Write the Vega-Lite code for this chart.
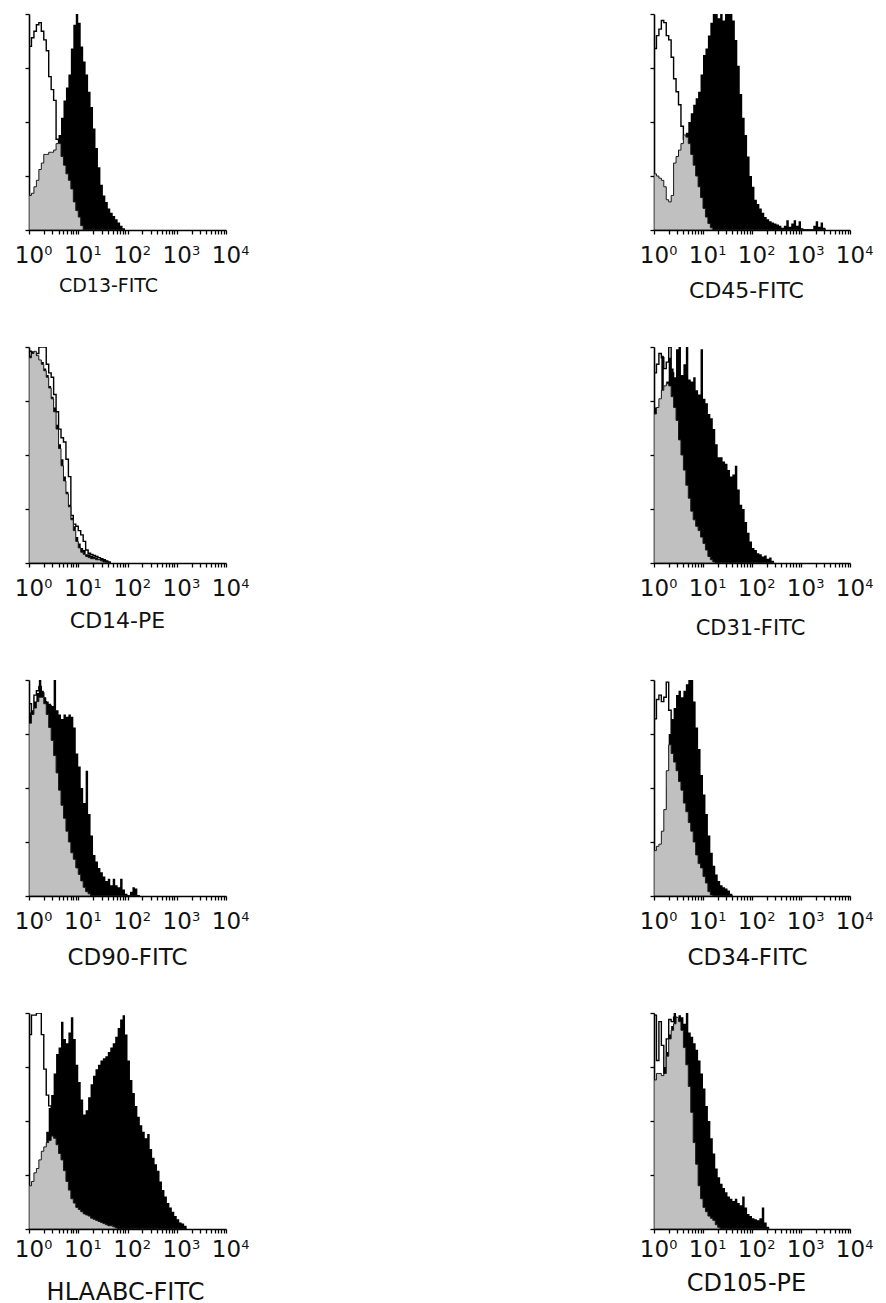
{
"$schema": "https://vega.github.io/schema/vega-lite/v6.json",
"padding": {"left": 14, "top": 13, "right": 0, "bottom": 0},
"background": "#ffffff",
"config": {
 "view": {"stroke": null},
 "axis": {"grid": false, "domainColor": "#000000", "domainWidth": 1.6, "tickColor": "#000000", "tickWidth": 1.3, "tickSize": 4, "labelFont": "DejaVu Sans", "labelFontSize": 23, "labelColor": "#111111", "labelPadding": 10, "labelOverlap": false, "labelBound": false, "labelFlush": false, "titleFont": "DejaVu Sans", "titleFontWeight": "normal", "titleColor": "#111111", "titleFontSize": 19, "titleBaseline": "top", "titleAlign": "center"}
},
"datasets": {
 "cd13": [{"d":0,"o":85,"g":16,"b":3},{"d":0.05,"o":89,"g":17,"b":4},{"d":0.1,"o":92,"g":20,"b":5},{"d":0.15,"o":95,"g":23,"b":6},{"d":0.2,"o":96,"g":28,"b":8},{"d":0.25,"o":92,"g":31,"b":10},{"d":0.3,"o":88,"g":35,"b":12},{"d":0.35,"o":83,"g":35,"b":14},{"d":0.4,"o":71,"g":36,"b":18},{"d":0.45,"o":65,"g":36,"b":22},{"d":0.5,"o":60,"g":37,"b":28},{"d":0.55,"o":42,"g":40,"b":35},{"d":0.6,"o":40,"g":40,"b":44},{"d":0.65,"o":32,"g":34,"b":52},{"d":0.7,"o":26,"g":30,"b":60},{"d":0.75,"o":20,"g":26,"b":66},{"d":0.8,"o":15,"g":23,"b":72},{"d":0.85,"o":11,"g":19,"b":84},{"d":0.9,"o":8,"g":13,"b":95},{"d":0.95,"o":6,"g":9,"b":100},{"d":1,"o":4,"g":6,"b":96},{"d":1.05,"o":3,"g":2,"b":85},{"d":1.1,"o":2,"g":0,"b":78},{"d":1.15,"o":2,"g":0,"b":72},{"d":1.2,"o":1,"g":0,"b":64},{"d":1.25,"o":1,"g":0,"b":57},{"d":1.3,"o":0.5,"g":0,"b":47},{"d":1.35,"o":0.5,"g":0,"b":38},{"d":1.4,"o":0,"g":0,"b":29},{"d":1.45,"o":0,"g":0,"b":21},{"d":1.5,"o":0,"g":0,"b":16},{"d":1.55,"o":0,"g":0,"b":13},{"d":1.6,"o":0,"g":0,"b":10},{"d":1.65,"o":0,"g":0,"b":8},{"d":1.7,"o":0,"g":0,"b":6.5},{"d":1.75,"o":0,"g":0,"b":5},{"d":1.8,"o":0,"g":0,"b":3.5},{"d":1.85,"o":0,"g":0,"b":2},{"d":1.9,"o":0,"g":0,"b":0.8},{"d":1.95,"o":0,"g":0,"b":0}],
 "cd45": [{"d":0,"o":84,"g":26,"b":10},{"d":0.05,"o":90,"g":25,"b":10},{"d":0.1,"o":93,"g":24,"b":10},{"d":0.15,"o":97,"g":23,"b":11},{"d":0.2,"o":96,"g":20,"b":11},{"d":0.25,"o":90,"g":14,"b":12},{"d":0.3,"o":88,"g":13,"b":12},{"d":0.35,"o":80,"g":16,"b":15},{"d":0.4,"o":70,"g":31,"b":20},{"d":0.45,"o":64,"g":34,"b":25},{"d":0.5,"o":58,"g":37,"b":30},{"d":0.55,"o":48,"g":40,"b":35},{"d":0.6,"o":42,"g":44,"b":38},{"d":0.65,"o":36,"g":43,"b":45},{"d":0.7,"o":30,"g":40,"b":50},{"d":0.75,"o":24,"g":35,"b":54},{"d":0.8,"o":18,"g":30,"b":58},{"d":0.85,"o":13,"g":25,"b":61},{"d":0.9,"o":9,"g":20,"b":64},{"d":0.95,"o":6,"g":15,"b":72},{"d":1,"o":4,"g":10,"b":81},{"d":1.05,"o":3,"g":6,"b":84},{"d":1.1,"o":2,"g":3,"b":90},{"d":1.15,"o":1.5,"g":1,"b":96},{"d":1.2,"o":1,"g":0,"b":100},{"d":1.25,"o":0.5,"g":0,"b":100},{"d":1.3,"o":0,"g":0,"b":98},{"d":1.35,"o":0,"g":0,"b":100},{"d":1.4,"o":0,"g":0,"b":97},{"d":1.45,"o":0,"g":0,"b":100},{"d":1.5,"o":0,"g":0,"b":100},{"d":1.55,"o":0,"g":0,"b":100},{"d":1.6,"o":0,"g":0,"b":97},{"d":1.65,"o":0,"g":0,"b":88},{"d":1.7,"o":0,"g":0,"b":76},{"d":1.75,"o":0,"g":0,"b":63},{"d":1.8,"o":0,"g":0,"b":52},{"d":1.85,"o":0,"g":0,"b":44},{"d":1.9,"o":0,"g":0,"b":34},{"d":1.95,"o":0,"g":0,"b":25},{"d":2,"o":0,"g":0,"b":20},{"d":2.05,"o":0,"g":0,"b":14},{"d":2.1,"o":0,"g":0,"b":12},{"d":2.15,"o":0,"g":0,"b":10},{"d":2.2,"o":0,"g":0,"b":8},{"d":2.25,"o":0,"g":0,"b":6},{"d":2.3,"o":0,"g":0,"b":5},{"d":2.35,"o":0,"g":0,"b":4},{"d":2.4,"o":0,"g":0,"b":3.5},{"d":2.45,"o":0,"g":0,"b":3},{"d":2.5,"o":0,"g":0,"b":2.5},{"d":2.55,"o":0,"g":0,"b":2},{"d":2.6,"o":0,"g":0,"b":1},{"d":2.65,"o":0,"g":0,"b":2},{"d":2.7,"o":0,"g":0,"b":4.5},{"d":2.75,"o":0,"g":0,"b":1.5},{"d":2.8,"o":0,"g":0,"b":3},{"d":2.85,"o":0,"g":0,"b":4.5},{"d":2.9,"o":0,"g":0,"b":2},{"d":2.95,"o":0,"g":0,"b":4},{"d":3,"o":0,"g":0,"b":0.8},{"d":3.05,"o":0,"g":0,"b":0.3},{"d":3.1,"o":0,"g":0,"b":0.3},{"d":3.15,"o":0,"g":0,"b":0},{"d":3.2,"o":0,"g":0,"b":0.5},{"d":3.25,"o":0,"g":0,"b":2},{"d":3.3,"o":0,"g":0,"b":4},{"d":3.35,"o":0,"g":0,"b":1.5},{"d":3.4,"o":0,"g":0,"b":3.5},{"d":3.45,"o":0,"g":0,"b":1},{"d":3.5,"o":0,"g":0,"b":0}],
 "cd14": [{"d":0,"o":98,"g":95,"b":96},{"d":0.05,"o":95,"g":97,"b":98},{"d":0.1,"o":93,"g":98,"b":97},{"d":0.15,"o":97,"g":96,"b":95},{"d":0.2,"o":100,"g":94,"b":93},{"d":0.25,"o":100,"g":92,"b":93},{"d":0.3,"o":100,"g":89,"b":90},{"d":0.35,"o":92,"g":86,"b":87},{"d":0.4,"o":88,"g":81,"b":82},{"d":0.45,"o":86,"g":76,"b":77},{"d":0.5,"o":78,"g":70,"b":72},{"d":0.55,"o":70,"g":62,"b":64},{"d":0.6,"o":62,"g":53,"b":55},{"d":0.65,"o":58,"g":45,"b":48},{"d":0.7,"o":56,"g":38,"b":40},{"d":0.75,"o":48,"g":32,"b":33},{"d":0.8,"o":40,"g":26,"b":27},{"d":0.85,"o":22,"g":20,"b":21},{"d":0.9,"o":18,"g":15,"b":17},{"d":0.95,"o":17,"g":10,"b":12},{"d":1,"o":15,"g":7,"b":9},{"d":1.05,"o":13,"g":5,"b":7},{"d":1.1,"o":10,"g":4,"b":6},{"d":1.15,"o":6,"g":3,"b":4},{"d":1.2,"o":4.5,"g":2.5,"b":4},{"d":1.25,"o":4,"g":2,"b":3.5},{"d":1.3,"o":3.5,"g":2,"b":3},{"d":1.35,"o":3,"g":1.5,"b":2.5},{"d":1.4,"o":2.5,"g":1.5,"b":2},{"d":1.45,"o":2,"g":1,"b":2},{"d":1.5,"o":1.5,"g":0.5,"b":1.5},{"d":1.55,"o":1,"g":0.3,"b":1},{"d":1.6,"o":0.5,"g":0,"b":0.5},{"d":1.65,"o":0,"g":0,"b":0}],
 "cd31": [{"d":0,"o":88,"g":69,"b":72},{"d":0.05,"o":92,"g":72,"b":70},{"d":0.1,"o":97,"g":76,"b":74},{"d":0.15,"o":95,"g":80,"b":96},{"d":0.2,"o":90,"g":82,"b":80},{"d":0.25,"o":93,"g":83,"b":84},{"d":0.3,"o":100,"g":82,"b":95},{"d":0.35,"o":88,"g":77,"b":90},{"d":0.4,"o":80,"g":72,"b":86},{"d":0.45,"o":72,"g":66,"b":99},{"d":0.5,"o":64,"g":57,"b":100},{"d":0.55,"o":56,"g":50,"b":87},{"d":0.6,"o":48,"g":43,"b":92},{"d":0.65,"o":40,"g":36,"b":100},{"d":0.7,"o":34,"g":30,"b":85},{"d":0.75,"o":28,"g":24,"b":84},{"d":0.8,"o":22,"g":20,"b":86},{"d":0.85,"o":17,"g":17,"b":80},{"d":0.9,"o":13,"g":15,"b":78},{"d":0.95,"o":10,"g":12,"b":99},{"d":1,"o":8,"g":9,"b":76},{"d":1.05,"o":6,"g":6,"b":74},{"d":1.1,"o":4,"g":3,"b":69},{"d":1.15,"o":3,"g":1.5,"b":67},{"d":1.2,"o":2,"g":0.5,"b":62},{"d":1.25,"o":1,"g":0,"b":55},{"d":1.3,"o":0.5,"g":0,"b":49},{"d":1.35,"o":0,"g":0,"b":49},{"d":1.4,"o":0,"g":0,"b":47},{"d":1.45,"o":0,"g":0,"b":46},{"d":1.5,"o":0,"g":0,"b":43},{"d":1.55,"o":0,"g":0,"b":40},{"d":1.6,"o":0,"g":0,"b":41},{"d":1.65,"o":0,"g":0,"b":45},{"d":1.7,"o":0,"g":0,"b":34},{"d":1.75,"o":0,"g":0,"b":27},{"d":1.8,"o":0,"g":0,"b":25},{"d":1.85,"o":0,"g":0,"b":19},{"d":1.9,"o":0,"g":0,"b":14},{"d":1.95,"o":0,"g":0,"b":10},{"d":2,"o":0,"g":0,"b":7},{"d":2.05,"o":0,"g":0,"b":6},{"d":2.1,"o":0,"g":0,"b":4.5},{"d":2.15,"o":0,"g":0,"b":4},{"d":2.2,"o":0,"g":0,"b":3},{"d":2.25,"o":0,"g":0,"b":3.5},{"d":2.3,"o":0,"g":0,"b":2},{"d":2.35,"o":0,"g":0,"b":2.5},{"d":2.4,"o":0,"g":0,"b":1},{"d":2.45,"o":0,"g":0,"b":0}],
 "cd90": [{"d":0,"o":89,"g":80,"b":85},{"d":0.05,"o":84,"g":84,"b":86},{"d":0.1,"o":93,"g":87,"b":90},{"d":0.15,"o":95,"g":90,"b":94},{"d":0.2,"o":97,"g":92,"b":100},{"d":0.25,"o":94,"g":92,"b":95},{"d":0.3,"o":90,"g":89,"b":92},{"d":0.35,"o":86,"g":84,"b":90},{"d":0.4,"o":88,"g":78,"b":89},{"d":0.45,"o":84,"g":72,"b":88},{"d":0.5,"o":80,"g":65,"b":100},{"d":0.55,"o":74,"g":57,"b":86},{"d":0.6,"o":66,"g":49,"b":84},{"d":0.65,"o":58,"g":42,"b":82},{"d":0.7,"o":50,"g":36,"b":84},{"d":0.75,"o":42,"g":30,"b":83},{"d":0.8,"o":34,"g":25,"b":84},{"d":0.85,"o":26,"g":20,"b":83},{"d":0.9,"o":20,"g":17,"b":78},{"d":0.95,"o":15,"g":13,"b":66},{"d":1,"o":11,"g":10,"b":60},{"d":1.05,"o":8,"g":7,"b":50},{"d":1.1,"o":6,"g":4,"b":43},{"d":1.15,"o":4,"g":2,"b":58},{"d":1.2,"o":3,"g":1,"b":38},{"d":1.25,"o":2,"g":0,"b":28},{"d":1.3,"o":1,"g":0,"b":19},{"d":1.35,"o":0.5,"g":0,"b":16},{"d":1.4,"o":0,"g":0,"b":13},{"d":1.45,"o":0,"g":0,"b":11},{"d":1.5,"o":0,"g":0,"b":9},{"d":1.55,"o":0,"g":0,"b":7},{"d":1.6,"o":0,"g":0,"b":8},{"d":1.65,"o":0,"g":0,"b":5},{"d":1.7,"o":0,"g":0,"b":8},{"d":1.75,"o":0,"g":0,"b":5},{"d":1.8,"o":0,"g":0,"b":4},{"d":1.85,"o":0,"g":0,"b":8},{"d":1.9,"o":0,"g":0,"b":3},{"d":1.95,"o":0,"g":0,"b":1},{"d":2,"o":0,"g":0,"b":0.5},{"d":2.05,"o":0,"g":0,"b":2},{"d":2.1,"o":0,"g":0,"b":4},{"d":2.15,"o":0,"g":0,"b":3.5},{"d":2.2,"o":0,"g":0,"b":0.5},{"d":2.25,"o":0,"g":0,"b":0}],
 "cd34": [{"d":0,"o":82,"g":21,"b":10},{"d":0.05,"o":91,"g":23,"b":12},{"d":0.1,"o":93,"g":24,"b":15},{"d":0.15,"o":90,"g":30,"b":20},{"d":0.2,"o":92,"g":40,"b":30},{"d":0.25,"o":99,"g":58,"b":50},{"d":0.3,"o":86,"g":70,"b":75},{"d":0.35,"o":70,"g":66,"b":82},{"d":0.4,"o":60,"g":62,"b":87},{"d":0.45,"o":52,"g":58,"b":93},{"d":0.5,"o":45,"g":53,"b":95},{"d":0.55,"o":38,"g":49,"b":92},{"d":0.6,"o":32,"g":43,"b":95},{"d":0.65,"o":26,"g":39,"b":98},{"d":0.7,"o":20,"g":34,"b":100},{"d":0.75,"o":16,"g":30,"b":100},{"d":0.8,"o":12,"g":25,"b":90},{"d":0.85,"o":9,"g":19,"b":78},{"d":0.9,"o":7,"g":15,"b":68},{"d":0.95,"o":5,"g":13,"b":56},{"d":1,"o":3,"g":9,"b":47},{"d":1.05,"o":2,"g":6,"b":38},{"d":1.1,"o":1,"g":2,"b":28},{"d":1.15,"o":0.5,"g":0.5,"b":20},{"d":1.2,"o":0,"g":0,"b":14},{"d":1.25,"o":0,"g":0,"b":10},{"d":1.3,"o":0,"g":0,"b":7},{"d":1.35,"o":0,"g":0,"b":5},{"d":1.4,"o":0,"g":0,"b":4},{"d":1.45,"o":0,"g":0,"b":3.5},{"d":1.5,"o":0,"g":0,"b":2.5},{"d":1.55,"o":0,"g":0,"b":1},{"d":1.6,"o":0,"g":0,"b":0}],
 "hla": [{"d":0,"o":90,"g":20,"b":10},{"d":0.05,"o":99,"g":22,"b":12},{"d":0.1,"o":99,"g":26,"b":14},{"d":0.15,"o":100,"g":28,"b":18},{"d":0.2,"o":100,"g":32,"b":24},{"d":0.25,"o":90,"g":36,"b":30},{"d":0.3,"o":74,"g":38,"b":36},{"d":0.35,"o":62,"g":40,"b":45},{"d":0.4,"o":57,"g":41,"b":56},{"d":0.45,"o":50,"g":43,"b":62},{"d":0.5,"o":44,"g":42,"b":72},{"d":0.55,"o":38,"g":39,"b":81},{"d":0.6,"o":32,"g":35,"b":84},{"d":0.65,"o":26,"g":32,"b":96},{"d":0.7,"o":22,"g":27,"b":88},{"d":0.75,"o":18,"g":22,"b":86},{"d":0.8,"o":15,"g":18,"b":91},{"d":0.85,"o":12,"g":14,"b":98},{"d":0.9,"o":10,"g":12,"b":88},{"d":0.95,"o":8,"g":10,"b":76},{"d":1,"o":6,"g":9,"b":68},{"d":1.05,"o":5,"g":8,"b":60},{"d":1.1,"o":4,"g":7,"b":53},{"d":1.15,"o":3,"g":6.5,"b":55},{"d":1.2,"o":2,"g":6,"b":61},{"d":1.25,"o":1.5,"g":5,"b":67},{"d":1.3,"o":1,"g":4.5,"b":71},{"d":1.35,"o":0.5,"g":4,"b":74},{"d":1.4,"o":0,"g":3.5,"b":76},{"d":1.45,"o":0,"g":3,"b":78},{"d":1.5,"o":0,"g":2.5,"b":79},{"d":1.55,"o":0,"g":2,"b":80},{"d":1.6,"o":0,"g":1.5,"b":82},{"d":1.65,"o":0,"g":1.5,"b":84},{"d":1.7,"o":0,"g":1,"b":86},{"d":1.75,"o":0,"g":0.5,"b":89},{"d":1.8,"o":0,"g":0,"b":93},{"d":1.85,"o":0,"g":0,"b":97},{"d":1.9,"o":0,"g":0,"b":99},{"d":1.95,"o":0,"g":0,"b":90},{"d":2,"o":0,"g":0,"b":78},{"d":2.05,"o":0,"g":0,"b":69},{"d":2.1,"o":0,"g":0,"b":63},{"d":2.15,"o":0,"g":0,"b":57},{"d":2.2,"o":0,"g":0,"b":52},{"d":2.25,"o":0,"g":0,"b":48},{"d":2.3,"o":0,"g":0,"b":45},{"d":2.35,"o":0,"g":0,"b":42},{"d":2.4,"o":0,"g":0,"b":44},{"d":2.45,"o":0,"g":0,"b":37},{"d":2.5,"o":0,"g":0,"b":33},{"d":2.55,"o":0,"g":0,"b":30},{"d":2.6,"o":0,"g":0,"b":27},{"d":2.65,"o":0,"g":0,"b":22},{"d":2.7,"o":0,"g":0,"b":18},{"d":2.75,"o":0,"g":0,"b":15},{"d":2.8,"o":0,"g":0,"b":12},{"d":2.85,"o":0,"g":0,"b":10},{"d":2.9,"o":0,"g":0,"b":8},{"d":2.95,"o":0,"g":0,"b":6},{"d":3,"o":0,"g":0,"b":4.5},{"d":3.05,"o":0,"g":0,"b":3},{"d":3.1,"o":0,"g":0,"b":2.5},{"d":3.15,"o":0,"g":0,"b":1.5},{"d":3.2,"o":0,"g":0,"b":0}],
 "cd105": [{"d":0,"o":99,"g":69,"b":60},{"d":0.05,"o":78,"g":72,"b":65},{"d":0.1,"o":96,"g":72,"b":70},{"d":0.15,"o":85,"g":71,"b":68},{"d":0.2,"o":72,"g":72,"b":75},{"d":0.25,"o":88,"g":80,"b":82},{"d":0.3,"o":97,"g":88,"b":90},{"d":0.35,"o":96,"g":92,"b":94},{"d":0.4,"o":98,"g":95,"b":100},{"d":0.45,"o":95,"g":98,"b":97},{"d":0.5,"o":92,"g":96,"b":99},{"d":0.55,"o":88,"g":92,"b":98},{"d":0.6,"o":82,"g":84,"b":95},{"d":0.65,"o":74,"g":76,"b":100},{"d":0.7,"o":62,"g":66,"b":91},{"d":0.75,"o":50,"g":54,"b":89},{"d":0.8,"o":38,"g":40,"b":86},{"d":0.85,"o":26,"g":30,"b":83},{"d":0.9,"o":17,"g":20,"b":78},{"d":0.95,"o":12,"g":14,"b":72},{"d":1,"o":8,"g":10,"b":65},{"d":1.05,"o":6,"g":8,"b":57},{"d":1.1,"o":4,"g":6,"b":50},{"d":1.15,"o":3,"g":5,"b":42},{"d":1.2,"o":2,"g":4,"b":35},{"d":1.25,"o":1,"g":2,"b":28},{"d":1.3,"o":0.5,"g":0.8,"b":24},{"d":1.35,"o":0,"g":0,"b":21},{"d":1.4,"o":0,"g":0,"b":19},{"d":1.45,"o":0,"g":0,"b":17},{"d":1.5,"o":0,"g":0,"b":15},{"d":1.55,"o":0,"g":0,"b":14},{"d":1.6,"o":0,"g":0,"b":13},{"d":1.65,"o":0,"g":0,"b":14},{"d":1.7,"o":0,"g":0,"b":12},{"d":1.75,"o":0,"g":0,"b":11},{"d":1.8,"o":0,"g":0,"b":15},{"d":1.85,"o":0,"g":0,"b":10},{"d":1.9,"o":0,"g":0,"b":7},{"d":1.95,"o":0,"g":0,"b":6},{"d":2,"o":0,"g":0,"b":5},{"d":2.05,"o":0,"g":0,"b":4.5},{"d":2.1,"o":0,"g":0,"b":4},{"d":2.15,"o":0,"g":0,"b":5},{"d":2.2,"o":0,"g":0,"b":10},{"d":2.25,"o":0,"g":0,"b":3},{"d":2.3,"o":0,"g":0,"b":1},{"d":2.35,"o":0,"g":0,"b":0}]
},
"bounds": "flush",
"spacing": 625,
"hconcat": [
 {"bounds": "flush", "spacing": 117, "vconcat": [
  {"width": 197, "height": 216, "data": {"name": "cd13"}, "resolve": {"axis": {"x": "independent"}},
   "layer": [
    {"mark": {"type": "area", "interpolate": "step-after", "color": "#000000", "clip": true}, "encoding": {"x": {"field": "d", "type": "quantitative", "scale": {"domain": [0, 4], "nice": false, "zero": false}, "axis": {"title": "CD13-FITC", "titleX": 79, "titleY": 46, "titleFontSize": 19, "values": [0,0.301,0.477,0.602,0.699,0.778,0.845,0.903,0.954,1,1.301,1.477,1.602,1.699,1.778,1.845,1.903,1.954,2,2.301,2.477,2.602,2.699,2.778,2.845,2.903,2.954,3,3.301,3.477,3.602,3.699,3.778,3.845,3.903,3.954,4], "labelExpr": "datum.value == round(datum.value) ? '10' : ''"}}, "y": {"field": "b", "type": "quantitative", "scale": {"domain": [0, 100], "nice": false}, "axis": {"title": null, "labels": false, "values": [0, 25, 50, 75, 100]}}}},
    {"mark": {"type": "line", "interpolate": "step-after", "color": "#000000", "strokeWidth": 1.4, "clip": true}, "encoding": {"x": {"field": "d", "type": "quantitative", "axis": {"orient": "bottom", "title": null, "domain": false, "tickOpacity": 0, "values": [0, 1, 2, 3, 4], "labelExpr": "'' + datum.value", "labelFontSize": 13, "labelOffset": 19}}, "y": {"field": "o", "type": "quantitative", "axis": {"title": null, "labels": false, "values": [0, 25, 50, 75, 100]}}}},
    {"mark": {"type": "area", "interpolate": "step-after", "fill": "#c0c0c0", "stroke": "#1a1a1a", "strokeWidth": 1, "clip": true}, "encoding": {"x": {"field": "d", "type": "quantitative", "axis": null}, "y": {"field": "g", "type": "quantitative", "axis": {"title": null, "labels": false, "values": [0, 25, 50, 75, 100]}}}}
   ]},
  {"width": 197, "height": 216, "data": {"name": "cd14"}, "resolve": {"axis": {"x": "independent"}},
   "layer": [
    {"mark": {"type": "area", "interpolate": "step-after", "color": "#000000", "clip": true}, "encoding": {"x": {"field": "d", "type": "quantitative", "scale": {"domain": [0, 4], "nice": false, "zero": false}, "axis": {"title": "CD14-PE", "titleX": 88, "titleY": 47, "titleFontSize": 22, "values": [0,0.301,0.477,0.602,0.699,0.778,0.845,0.903,0.954,1,1.301,1.477,1.602,1.699,1.778,1.845,1.903,1.954,2,2.301,2.477,2.602,2.699,2.778,2.845,2.903,2.954,3,3.301,3.477,3.602,3.699,3.778,3.845,3.903,3.954,4], "labelExpr": "datum.value == round(datum.value) ? '10' : ''"}}, "y": {"field": "b", "type": "quantitative", "scale": {"domain": [0, 100], "nice": false}, "axis": {"title": null, "labels": false, "values": [0, 25, 50, 75, 100]}}}},
    {"mark": {"type": "line", "interpolate": "step-after", "color": "#000000", "strokeWidth": 1.4, "clip": true}, "encoding": {"x": {"field": "d", "type": "quantitative", "axis": {"orient": "bottom", "title": null, "domain": false, "tickOpacity": 0, "values": [0, 1, 2, 3, 4], "labelExpr": "'' + datum.value", "labelFontSize": 13, "labelOffset": 19}}, "y": {"field": "o", "type": "quantitative", "axis": {"title": null, "labels": false, "values": [0, 25, 50, 75, 100]}}}},
    {"mark": {"type": "area", "interpolate": "step-after", "fill": "#c0c0c0", "stroke": "#1a1a1a", "strokeWidth": 1, "clip": true}, "encoding": {"x": {"field": "d", "type": "quantitative", "axis": null}, "y": {"field": "g", "type": "quantitative", "axis": {"title": null, "labels": false, "values": [0, 25, 50, 75, 100]}}}}
   ]},
  {"width": 197, "height": 216, "data": {"name": "cd90"}, "resolve": {"axis": {"x": "independent"}},
   "layer": [
    {"mark": {"type": "area", "interpolate": "step-after", "color": "#000000", "clip": true}, "encoding": {"x": {"field": "d", "type": "quantitative", "scale": {"domain": [0, 4], "nice": false, "zero": false}, "axis": {"title": "CD90-FITC", "titleX": 98, "titleY": 50, "titleFontSize": 23, "values": [0,0.301,0.477,0.602,0.699,0.778,0.845,0.903,0.954,1,1.301,1.477,1.602,1.699,1.778,1.845,1.903,1.954,2,2.301,2.477,2.602,2.699,2.778,2.845,2.903,2.954,3,3.301,3.477,3.602,3.699,3.778,3.845,3.903,3.954,4], "labelExpr": "datum.value == round(datum.value) ? '10' : ''"}}, "y": {"field": "b", "type": "quantitative", "scale": {"domain": [0, 100], "nice": false}, "axis": {"title": null, "labels": false, "values": [0, 25, 50, 75, 100]}}}},
    {"mark": {"type": "line", "interpolate": "step-after", "color": "#000000", "strokeWidth": 1.4, "clip": true}, "encoding": {"x": {"field": "d", "type": "quantitative", "axis": {"orient": "bottom", "title": null, "domain": false, "tickOpacity": 0, "values": [0, 1, 2, 3, 4], "labelExpr": "'' + datum.value", "labelFontSize": 13, "labelOffset": 19}}, "y": {"field": "o", "type": "quantitative", "axis": {"title": null, "labels": false, "values": [0, 25, 50, 75, 100]}}}},
    {"mark": {"type": "area", "interpolate": "step-after", "fill": "#c0c0c0", "stroke": "#1a1a1a", "strokeWidth": 1, "clip": true}, "encoding": {"x": {"field": "d", "type": "quantitative", "axis": null}, "y": {"field": "g", "type": "quantitative", "axis": {"title": null, "labels": false, "values": [0, 25, 50, 75, 100]}}}}
   ]},
  {"width": 197, "height": 216, "data": {"name": "hla"}, "resolve": {"axis": {"x": "independent"}},
   "layer": [
    {"mark": {"type": "area", "interpolate": "step-after", "color": "#000000", "clip": true}, "encoding": {"x": {"field": "d", "type": "quantitative", "scale": {"domain": [0, 4], "nice": false, "zero": false}, "axis": {"title": "HLAABC-FITC", "titleX": 96, "titleY": 51, "titleFontSize": 24, "labelPadding": 5, "values": [0,0.301,0.477,0.602,0.699,0.778,0.845,0.903,0.954,1,1.301,1.477,1.602,1.699,1.778,1.845,1.903,1.954,2,2.301,2.477,2.602,2.699,2.778,2.845,2.903,2.954,3,3.301,3.477,3.602,3.699,3.778,3.845,3.903,3.954,4], "labelExpr": "datum.value == round(datum.value) ? '10' : ''"}}, "y": {"field": "b", "type": "quantitative", "scale": {"domain": [0, 100], "nice": false}, "axis": {"title": null, "labels": false, "values": [0, 25, 50, 75, 100]}}}},
    {"mark": {"type": "line", "interpolate": "step-after", "color": "#000000", "strokeWidth": 1.4, "clip": true}, "encoding": {"x": {"field": "d", "type": "quantitative", "axis": {"orient": "bottom", "title": null, "domain": false, "tickOpacity": 0, "values": [0, 1, 2, 3, 4], "labelExpr": "'' + datum.value", "labelFontSize": 13, "labelOffset": 19, "labelPadding": 5}}, "y": {"field": "o", "type": "quantitative", "axis": {"title": null, "labels": false, "values": [0, 25, 50, 75, 100]}}}},
    {"mark": {"type": "area", "interpolate": "step-after", "fill": "#c0c0c0", "stroke": "#1a1a1a", "strokeWidth": 1, "clip": true}, "encoding": {"x": {"field": "d", "type": "quantitative", "axis": null}, "y": {"field": "g", "type": "quantitative", "axis": {"title": null, "labels": false, "values": [0, 25, 50, 75, 100]}}}}
   ]}
 ]},
 {"bounds": "flush", "spacing": 117, "vconcat": [
  {"width": 196, "height": 216, "data": {"name": "cd45"}, "resolve": {"axis": {"x": "independent"}},
   "layer": [
    {"mark": {"type": "area", "interpolate": "step-after", "color": "#000000", "clip": true}, "encoding": {"x": {"field": "d", "type": "quantitative", "scale": {"domain": [0, 4], "nice": false, "zero": false}, "axis": {"title": "CD45-FITC", "titleX": 92, "titleY": 50, "titleFontSize": 22, "values": [0,0.301,0.477,0.602,0.699,0.778,0.845,0.903,0.954,1,1.301,1.477,1.602,1.699,1.778,1.845,1.903,1.954,2,2.301,2.477,2.602,2.699,2.778,2.845,2.903,2.954,3,3.301,3.477,3.602,3.699,3.778,3.845,3.903,3.954,4], "labelExpr": "datum.value == round(datum.value) ? '10' : ''"}}, "y": {"field": "b", "type": "quantitative", "scale": {"domain": [0, 100], "nice": false}, "axis": {"title": null, "labels": false, "values": [0, 25, 50, 75, 100]}}}},
    {"mark": {"type": "line", "interpolate": "step-after", "color": "#000000", "strokeWidth": 1.4, "clip": true}, "encoding": {"x": {"field": "d", "type": "quantitative", "axis": {"orient": "bottom", "title": null, "domain": false, "tickOpacity": 0, "values": [0, 1, 2, 3, 4], "labelExpr": "'' + datum.value", "labelFontSize": 13, "labelOffset": 19}}, "y": {"field": "o", "type": "quantitative", "axis": {"title": null, "labels": false, "values": [0, 25, 50, 75, 100]}}}},
    {"mark": {"type": "area", "interpolate": "step-after", "fill": "#c0c0c0", "stroke": "#1a1a1a", "strokeWidth": 1, "clip": true}, "encoding": {"x": {"field": "d", "type": "quantitative", "axis": null}, "y": {"field": "g", "type": "quantitative", "axis": {"title": null, "labels": false, "values": [0, 25, 50, 75, 100]}}}}
   ]},
  {"width": 196, "height": 216, "data": {"name": "cd31"}, "resolve": {"axis": {"x": "independent"}},
   "layer": [
    {"mark": {"type": "area", "interpolate": "step-after", "color": "#000000", "clip": true}, "encoding": {"x": {"field": "d", "type": "quantitative", "scale": {"domain": [0, 4], "nice": false, "zero": false}, "axis": {"title": "CD31-FITC", "titleX": 96, "titleY": 54, "titleFontSize": 21, "values": [0,0.301,0.477,0.602,0.699,0.778,0.845,0.903,0.954,1,1.301,1.477,1.602,1.699,1.778,1.845,1.903,1.954,2,2.301,2.477,2.602,2.699,2.778,2.845,2.903,2.954,3,3.301,3.477,3.602,3.699,3.778,3.845,3.903,3.954,4], "labelExpr": "datum.value == round(datum.value) ? '10' : ''"}}, "y": {"field": "b", "type": "quantitative", "scale": {"domain": [0, 100], "nice": false}, "axis": {"title": null, "labels": false, "values": [0, 25, 50, 75, 100]}}}},
    {"mark": {"type": "line", "interpolate": "step-after", "color": "#000000", "strokeWidth": 1.4, "clip": true}, "encoding": {"x": {"field": "d", "type": "quantitative", "axis": {"orient": "bottom", "title": null, "domain": false, "tickOpacity": 0, "values": [0, 1, 2, 3, 4], "labelExpr": "'' + datum.value", "labelFontSize": 13, "labelOffset": 19}}, "y": {"field": "o", "type": "quantitative", "axis": {"title": null, "labels": false, "values": [0, 25, 50, 75, 100]}}}},
    {"mark": {"type": "area", "interpolate": "step-after", "fill": "#c0c0c0", "stroke": "#1a1a1a", "strokeWidth": 1, "clip": true}, "encoding": {"x": {"field": "d", "type": "quantitative", "axis": null}, "y": {"field": "g", "type": "quantitative", "axis": {"title": null, "labels": false, "values": [0, 25, 50, 75, 100]}}}}
   ]},
  {"width": 196, "height": 216, "data": {"name": "cd34"}, "resolve": {"axis": {"x": "independent"}},
   "layer": [
    {"mark": {"type": "area", "interpolate": "step-after", "color": "#000000", "clip": true}, "encoding": {"x": {"field": "d", "type": "quantitative", "scale": {"domain": [0, 4], "nice": false, "zero": false}, "axis": {"title": "CD34-FITC", "titleX": 93, "titleY": 50, "titleFontSize": 23, "values": [0,0.301,0.477,0.602,0.699,0.778,0.845,0.903,0.954,1,1.301,1.477,1.602,1.699,1.778,1.845,1.903,1.954,2,2.301,2.477,2.602,2.699,2.778,2.845,2.903,2.954,3,3.301,3.477,3.602,3.699,3.778,3.845,3.903,3.954,4], "labelExpr": "datum.value == round(datum.value) ? '10' : ''"}}, "y": {"field": "b", "type": "quantitative", "scale": {"domain": [0, 100], "nice": false}, "axis": {"title": null, "labels": false, "values": [0, 25, 50, 75, 100]}}}},
    {"mark": {"type": "line", "interpolate": "step-after", "color": "#000000", "strokeWidth": 1.4, "clip": true}, "encoding": {"x": {"field": "d", "type": "quantitative", "axis": {"orient": "bottom", "title": null, "domain": false, "tickOpacity": 0, "values": [0, 1, 2, 3, 4], "labelExpr": "'' + datum.value", "labelFontSize": 13, "labelOffset": 19}}, "y": {"field": "o", "type": "quantitative", "axis": {"title": null, "labels": false, "values": [0, 25, 50, 75, 100]}}}},
    {"mark": {"type": "area", "interpolate": "step-after", "fill": "#c0c0c0", "stroke": "#1a1a1a", "strokeWidth": 1, "clip": true}, "encoding": {"x": {"field": "d", "type": "quantitative", "axis": null}, "y": {"field": "g", "type": "quantitative", "axis": {"title": null, "labels": false, "values": [0, 25, 50, 75, 100]}}}}
   ]},
  {"width": 196, "height": 216, "data": {"name": "cd105"}, "resolve": {"axis": {"x": "independent"}},
   "layer": [
    {"mark": {"type": "area", "interpolate": "step-after", "color": "#000000", "clip": true}, "encoding": {"x": {"field": "d", "type": "quantitative", "scale": {"domain": [0, 4], "nice": false, "zero": false}, "axis": {"title": "CD105-PE", "titleX": 92, "titleY": 42, "titleFontSize": 24, "labelPadding": 5, "values": [0,0.301,0.477,0.602,0.699,0.778,0.845,0.903,0.954,1,1.301,1.477,1.602,1.699,1.778,1.845,1.903,1.954,2,2.301,2.477,2.602,2.699,2.778,2.845,2.903,2.954,3,3.301,3.477,3.602,3.699,3.778,3.845,3.903,3.954,4], "labelExpr": "datum.value == round(datum.value) ? '10' : ''"}}, "y": {"field": "b", "type": "quantitative", "scale": {"domain": [0, 100], "nice": false}, "axis": {"title": null, "labels": false, "values": [0, 25, 50, 75, 100]}}}},
    {"mark": {"type": "line", "interpolate": "step-after", "color": "#000000", "strokeWidth": 1.4, "clip": true}, "encoding": {"x": {"field": "d", "type": "quantitative", "axis": {"orient": "bottom", "title": null, "domain": false, "tickOpacity": 0, "values": [0, 1, 2, 3, 4], "labelExpr": "'' + datum.value", "labelFontSize": 13, "labelOffset": 19, "labelPadding": 5}}, "y": {"field": "o", "type": "quantitative", "axis": {"title": null, "labels": false, "values": [0, 25, 50, 75, 100]}}}},
    {"mark": {"type": "area", "interpolate": "step-after", "fill": "#c0c0c0", "stroke": "#1a1a1a", "strokeWidth": 1, "clip": true}, "encoding": {"x": {"field": "d", "type": "quantitative", "axis": null}, "y": {"field": "g", "type": "quantitative", "axis": {"title": null, "labels": false, "values": [0, 25, 50, 75, 100]}}}}
   ]}
 ]}
]
}
